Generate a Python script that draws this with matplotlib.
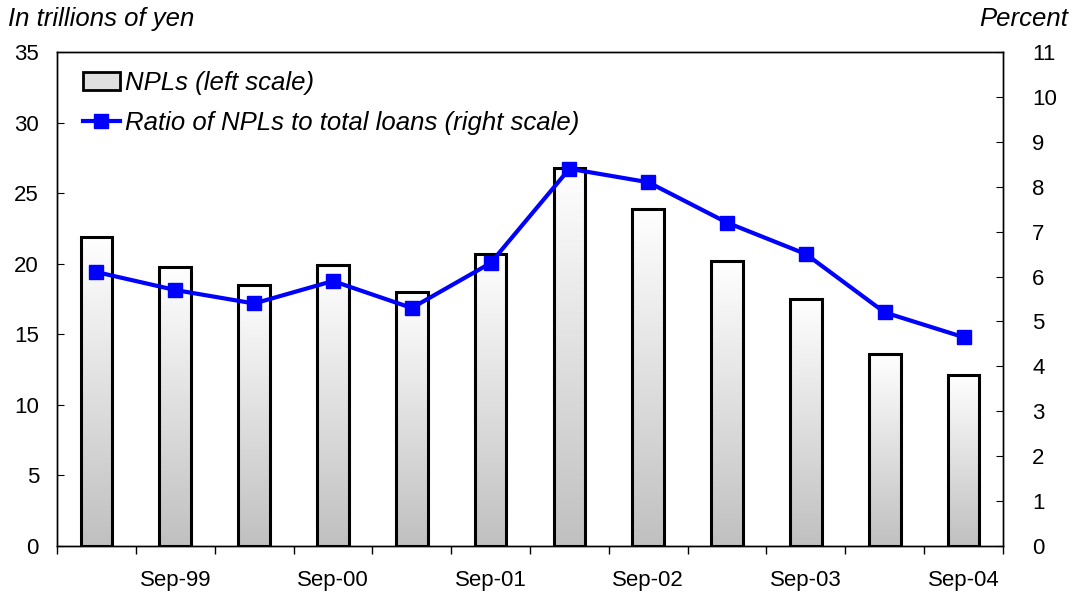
import matplotlib.pyplot as plt
import numpy as np
from matplotlib.colors import LinearSegmentedColormap
from matplotlib.patches import Patch
from matplotlib.lines import Line2D

plt.rcParams['font.family'] = ['Liberation Sans', 'DejaVu Sans']

periods = ["Mar-99", "Sep-99", "Mar-00", "Sep-00", "Mar-01", "Sep-01",
           "Mar-02", "Sep-02", "Mar-03", "Sep-03", "Mar-04", "Sep-04"]
npls = [21.9, 19.8, 18.5, 19.9, 18.0, 20.7, 26.8, 23.9, 20.2, 17.5, 13.6, 12.1]
ratio = [6.1, 5.7, 5.4, 5.9, 5.3, 6.3, 8.4, 8.1, 7.2, 6.5, 5.2, 4.65]

fig = plt.figure(figsize=(10.78, 5.95), dpi=100)
ax = fig.add_axes([57 / 1078, 1 - 546 / 595, (1003 - 57) / 1078, (546 - 52) / 595])
ax2 = ax.twinx()

x = np.arange(len(periods))
w = 0.4
grad = LinearSegmentedColormap.from_list("g", ["#c0c0c0", "#ffffff"])
g = np.linspace(0, 1, 256).reshape(-1, 1)
for xi, h in zip(x, npls):
    ax.imshow(g, cmap=grad, aspect="auto", origin="lower",
              extent=[xi - w / 2, xi + w / 2, 0, h], zorder=1)
ax.bar(x, npls, width=w, facecolor="none", edgecolor="black", linewidth=2.2, zorder=2)

ax2.plot(x, ratio, color="#0000ff", linewidth=3, marker="s", markersize=10)

ax.set_xlim(-0.5, len(periods) - 0.5)
ax.set_ylim(0, 35)
ax.set_yticks(range(0, 36, 5))
ax2.set_ylim(0, 11)
ax2.set_yticks(range(0, 12))

ax.set_xticks(x[1::2])
ax.set_xticklabels(periods[1::2])
ax.set_xticks(np.arange(-0.5, len(periods), 1), minor=True)
ax.tick_params(axis="x", which="major", length=0, pad=17, labelsize=16)
ax.tick_params(axis="x", which="minor", length=6, direction="out", width=1)
ax.tick_params(axis="y", direction="in", length=5, labelsize=16, pad=13)
ax2.tick_params(axis="y", direction="in", length=5, labelsize=16, pad=21)

for a in (ax, ax2):
    for s in a.spines.values():
        s.set_linewidth(1)

fig.text(8 / 1078, 1 - 19 / 595, "In trillions of yen", fontsize=18.5, style="italic",
         va="center", ha="left")
fig.text(1068 / 1078, 1 - 19 / 595, "Percent", fontsize=18.5, style="italic",
         va="center", ha="right")

handles = [Patch(facecolor="#e0e0e0", edgecolor="black", linewidth=2),
           Line2D([], [], color="#0000ff", linewidth=3, marker="s", markersize=10)]
ax2.legend(handles, ["NPLs (left scale)", "Ratio of NPLs to total loans (right scale)"],
           loc="upper left", bbox_to_anchor=(0, 1.014), frameon=False,
           prop={"size": 18.5, "style": "italic"},
           handlelength=1.45, handletextpad=0.2, borderaxespad=0.6, labelspacing=0.62)

fig.savefig("out.png", dpi=100)
